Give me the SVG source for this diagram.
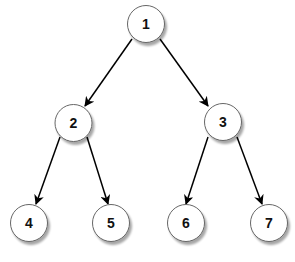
<svg xmlns="http://www.w3.org/2000/svg" width="295" height="262" viewBox="0 0 295 262">
<defs>
<marker id="arr" viewBox="0 0 10 10" refX="9" refY="5" markerWidth="10" markerHeight="10" markerUnits="userSpaceOnUse" orient="auto">
<path d="M0,0 L10,5 L0,10 L3,5 Z" fill="#000"/>
</marker>
<filter id="sh" x="-30%" y="-30%" width="170%" height="170%">
<feGaussianBlur in="SourceAlpha" stdDeviation="1.2"/>
<feOffset dx="2" dy="2.5" result="b"/>
<feComponentTransfer><feFuncA type="linear" slope="0.35"/></feComponentTransfer>
<feMerge><feMergeNode/><feMergeNode in="SourceGraphic"/></feMerge>
</filter>
</defs>
<style>
.n circle{fill:#fff;stroke:#666;stroke-width:1;filter:url(#sh)}
.n text{font-family:"Liberation Sans",Arial,sans-serif;font-size:14px;font-weight:bold;fill:#111;text-anchor:middle;dominant-baseline:central}
.e line{stroke:#000;stroke-width:1.5;marker-end:url(#arr)}
</style>
<rect width="295" height="262" fill="#fff"/>
<g id="edges" class="e">
<line x1="132" y1="39" x2="85" y2="106"/>
<line x1="160" y1="39" x2="208" y2="106"/>
<line x1="60" y1="137" x2="36" y2="204"/>
<line x1="87" y1="137" x2="108" y2="204"/>
<line x1="208" y1="137" x2="186" y2="204"/>
<line x1="237" y1="137" x2="262" y2="204"/>
</g>
<g id="n1" class="n"><circle cx="146" cy="24" r="18.5"/><text x="146" y="24">1</text></g>
<g id="n2" class="n"><circle cx="73.5" cy="123" r="18.5"/><text x="73.5" y="123">2</text></g>
<g id="n3" class="n"><circle cx="223" cy="122" r="18.5"/><text x="223" y="122">3</text></g>
<g id="n4" class="n"><circle cx="29" cy="223" r="18.5"/><text x="29" y="223">4</text></g>
<g id="n5" class="n"><circle cx="111" cy="223" r="18.5"/><text x="111" y="223">5</text></g>
<g id="n6" class="n"><circle cx="186" cy="223" r="18.5"/><text x="186" y="223">6</text></g>
<g id="n7" class="n"><circle cx="269" cy="223" r="18.5"/><text x="269" y="223">7</text></g>
</svg>
